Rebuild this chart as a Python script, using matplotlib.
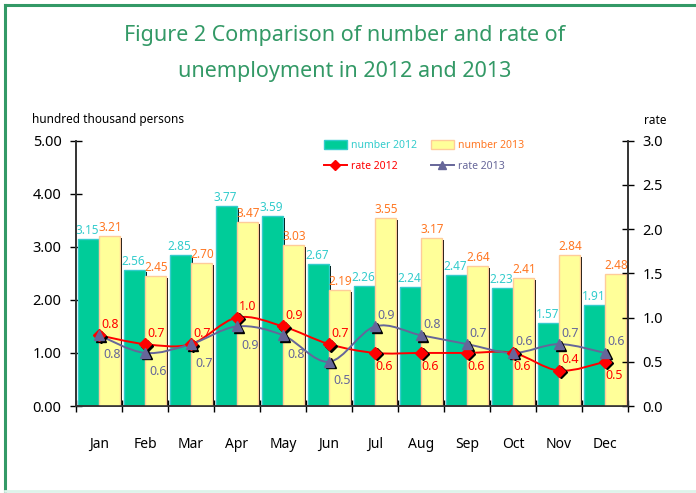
import matplotlib.pyplot as plt
import numpy as np
from matplotlib.path import Path
from matplotlib.patches import PathPatch, Patch
from matplotlib.lines import Line2D
import matplotlib.transforms as mtransforms

plt.rcParams['font.family'] = ['Noto Sans', 'DejaVu Sans']

months = ['Jan', 'Feb', 'Mar', 'Apr', 'May', 'Jun',
          'Jul', 'Aug', 'Sep', 'Oct', 'Nov', 'Dec']
number_2012 = [3.15, 2.56, 2.85, 3.77, 3.59, 2.67, 2.26, 2.24, 2.47, 2.23, 1.57, 1.91]
number_2013 = [3.21, 2.45, 2.70, 3.47, 3.03, 2.19, 3.55, 3.17, 2.64, 2.41, 2.84, 2.48]
rate_2012 = [0.8, 0.7, 0.7, 1.0, 0.9, 0.7, 0.6, 0.6, 0.6, 0.6, 0.4, 0.5]
rate_2013 = [0.8, 0.6, 0.7, 0.9, 0.8, 0.5, 0.9, 0.8, 0.7, 0.6, 0.7, 0.6]
# where each rate label sits relative to its point
pos_2012 = ['up', 'up', 'up', 'up', 'up', 'up', 'down', 'down', 'down', 'down', 'up', 'down']
pos_2013 = ['down', 'down', 'down', 'down', 'down', 'down', 'up', 'up', 'up', 'up', 'up', 'up']

c_n12 = '#00CC99'
c_n12_edge = '#33CCCC'
c_n13 = '#FFFF99'
c_n13_edge = '#FFCC99'
c_lab12 = '#33CCCC'
c_lab13 = '#FF7722'
c_r12 = '#FF0000'
c_r13 = '#666699'
green = '#339966'

W, H = 696, 493
fig = plt.figure(figsize=(W / 100, H / 100), dpi=100)

# frame around the figure
fig.add_artist(Line2D([5 / W, 1], [1 - 5 / H, 1 - 5 / H], color=green, lw=2.2))
fig.add_artist(Line2D([5 / W, 5 / W], [0, 1 - 5 / H], color=green, lw=2.2))
fig.add_artist(Line2D([5 / W, 1], [2 / H, 2 / H], color='#DDF3EA', lw=2))

fig.text(345 / W, 1 - 36 / H, 'Figure 2 Comparison of number and rate of',
         ha='center', va='center', color=green, fontsize=15.5)
fig.text(345 / W, 1 - 72 / H, 'unemployment in 2012 and 2013',
         ha='center', va='center', color=green, fontsize=15.5)

ax = fig.add_axes([76 / W, 1 - 406 / H, (628 - 76) / W, (406 - 140.7) / H])
ax2 = ax.twinx()

x = np.arange(len(months))
bw = 0.455
dx = 0.045
dy = 0.04

# shadows
for xs, vals in ((x - bw / 2, number_2012), (x + bw / 2, number_2013)):
    ax.bar(xs + dx, np.array(vals) - dy, bw, color='black', zorder=1)
ax.bar(x - bw / 2, number_2012, bw, color=c_n12, edgecolor=c_n12_edge, lw=1, zorder=2)
ax.bar(x + bw / 2, number_2013, bw, color=c_n13, edgecolor=c_n13_edge, lw=1, zorder=3)

for i in range(len(months)):
    ax.annotate(f'{number_2012[i]:.2f}', (x[i] - bw / 2, number_2012[i]),
                xytext=(-1, 2), textcoords='offset pixels', ha='center', va='bottom',
                color=c_lab12, fontsize=8.5, zorder=5)
    ax.annotate(f'{number_2013[i]:.2f}', (x[i] + bw / 2, number_2013[i]),
                xytext=(1, 2), textcoords='offset pixels', ha='center', va='bottom',
                color=c_lab13, fontsize=8.5, zorder=5)

ax.set_xlim(-0.5, len(months) - 0.5)
ax.set_ylim(0, 5)
ax.set_yticks(np.arange(0, 5.01, 1))
ax.set_yticklabels([f'{v:.2f}' for v in np.arange(0, 5.01, 1)])
ax.set_xticks(x)
ax.set_xticklabels(months)
ax.set_xticks(np.arange(-0.5, len(months)), minor=True)
ax.tick_params(axis='x', which='major', length=0, pad=22, labelsize=10)
ax.tick_params(axis='x', which='minor', length=8, direction='inout', width=1)
ax.tick_params(axis='y', length=9, direction='inout', width=1, pad=6, labelsize=10.5)

ax2.set_ylim(0, 3)
ax2.set_yticks(np.arange(0, 3.01, 0.5))
ax2.set_yticklabels([f'{v:.1f}' for v in np.arange(0, 3.01, 0.5)])
ax2.tick_params(axis='y', length=9, direction='inout', width=1, pad=6, labelsize=10.5)

for a in (ax, ax2):
    a.spines['top'].set_visible(False)
    for s in ('left', 'right', 'bottom'):
        a.spines[s].set_color('#333333')
        a.spines[s].set_linewidth(1.2)


def smooth_path(xs, ys):
    pts = np.column_stack([xs, ys]).astype(float)
    n = len(pts)
    verts = [pts[0]]
    codes = [Path.MOVETO]
    for i in range(n - 1):
        p0 = pts[max(i - 1, 0)]
        p1 = pts[i]
        p2 = pts[i + 1]
        p3 = pts[min(i + 2, n - 1)]
        c1 = p1 + (p2 - p0) / 6
        c2 = p2 - (p3 - p1) / 6
        verts += [c1, c2, p2]
        codes += [Path.CURVE4] * 3
    return Path(verts, codes)


shadow = mtransforms.offset_copy(ax2.transData, fig=fig, x=1.5, y=-1.5, units='dots')
for vals, col, mk, ms, pos, off_dn in ((rate_2012, c_r12, 'D', 6, pos_2012, -14),
                                       (rate_2013, c_r13, '^', 7.5, pos_2013, -19)):
    ax2.add_patch(PathPatch(smooth_path(x, vals), fc='none', ec=col, lw=1.4, zorder=4))
    ax2.plot(x, vals, ls='none', marker=mk, ms=ms, color='black', transform=shadow, zorder=5)
    ax2.plot(x, vals, ls='none', marker=mk, ms=ms, color=col, zorder=6)
    for i, v in enumerate(vals):
        oy = 11 if pos[i] == 'up' else off_dn
        ox = 11 if pos[i] == 'up' else (9 if off_dn == -14 else 13)
        ax2.annotate(f'{v:.1f}', (x[i], v), xytext=(ox, oy), textcoords='offset pixels',
                     ha='center', va='center', color=col, fontsize=9, zorder=7)

fig.text(32 / W, 1 - 120 / H, 'hundred thousand persons', ha='left', va='center', fontsize=8.5)
fig.text(655 / W, 1 - 121 / H, 'rate', ha='center', va='center', fontsize=8.5)

handles = [Patch(fc=c_n12, ec=c_n12_edge),
           Line2D([], [], color=c_r12, marker='D', ms=5, lw=1.4),
           Patch(fc=c_n13, ec=c_n13_edge),
           Line2D([], [], color=c_r13, marker='^', ms=6, lw=1.4)]
labels = ['number 2012', 'rate 2012', 'number 2013', 'rate 2013']
leg = fig.legend(handles, labels, loc='upper left', bbox_to_anchor=(324 / W, 1 - 140 / H),
                 ncol=2, frameon=False, fontsize=7.5, handlelength=2.2, handleheight=1.0,
                 handletextpad=0.4, columnspacing=1.3, labelspacing=0.9, borderpad=0,
                 borderaxespad=0)
for t, c in zip(leg.get_texts(), [c_lab12, c_r12, c_lab13, c_r13]):
    t.set_color(c)

fig.savefig('out.png', dpi=100)
